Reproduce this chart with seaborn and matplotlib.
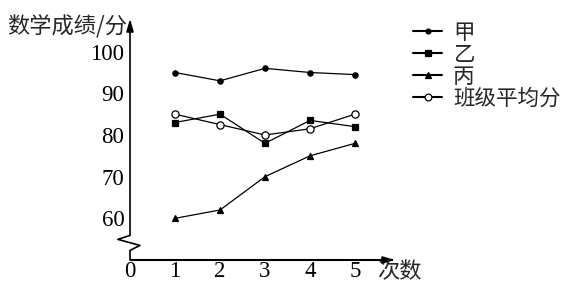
import matplotlib
matplotlib.use("Agg")
import matplotlib.pyplot as plt
from matplotlib import font_manager as fm
import seaborn as sns
import pandas as pd
from matplotlib.lines import Line2D

# ---- data ----
times = [1, 2, 3, 4, 5]
jia = [95, 93, 96, 95, 94.5]
yi = [83, 85, 78, 83.5, 82]
bing = [60, 62, 70, 75, 78]
avg = [85, 82.5, 80, 81.5, 85]
series_names = ["甲", "乙", "丙", "班级平均分"]
y_ticks = [60, 70, 80, 90, 100]
x_ticks = [0, 1, 2, 3, 4, 5]

sns.set_theme(style="white")
serif_name = 'Liberation Serif'
try:
    p = fm.findfont(fm.FontProperties(family=serif_name), fallback_to_default=False)
except Exception:
    serif_name = 'DejaVu Serif'
plt.rcParams['font.family'] = [serif_name, 'Noto Sans CJK SC', 'DejaVu Sans']
cjk = ['Noto Sans CJK SC', 'DejaVu Sans']
serif = [serif_name, 'DejaVu Serif']

fig = plt.figure(figsize=(5.88, 2.95), dpi=100)
ax = fig.add_axes([130/588, 35/295, 270/588, 250/295])

df = pd.DataFrame({
    "次数": times * 4,
    "成绩": jia + yi + bing + avg,
    "学生": sum([[n] * 5 for n in series_names], []),
})

styles = {
    "甲": dict(marker="o", ms=3.8, mfc="black"),
    "乙": dict(marker="s", ms=4.2, mfc="black"),
    "丙": dict(marker="^", ms=4.5, mfc="black"),
    "班级平均分": dict(marker="o", ms=5.2, mfc="white"),
}
handles = []
for name in series_names:
    sub = df[df["学生"] == name]
    st = styles[name]
    sns.lineplot(data=sub, x="次数", y="成绩", ax=ax, color="black", lw=0.9,
                 marker=st["marker"], markersize=st["ms"], markerfacecolor=st["mfc"],
                 markeredgecolor="black", markeredgewidth=0.9, legend=False)
    handles.append(Line2D([], [], color="black", lw=1.5, marker=st["marker"],
                          markersize=st["ms"] - 0.3, markerfacecolor=st["mfc"],
                          markeredgecolor="black", markeredgewidth=0.9))

ax.set_xlim(0, 6)
ax.set_ylim(50, 110)
for s in ax.spines.values():
    s.set_visible(False)
ax.set_xlabel("")
ax.set_ylabel("")

ax.set_xticks(x_ticks)
ax.set_xticklabels([str(t) for t in x_ticks], fontsize=16.5, family=serif)
ax.set_yticks(y_ticks)
ax.set_yticklabels([str(t) for t in y_ticks], fontsize=16.5, family=serif)
ax.tick_params(axis='x', direction='in', length=4, width=1, pad=1, colors='black')
ax.tick_params(axis='y', direction='in', length=3, width=1, pad=4, colors='black')
ax.xaxis.get_major_ticks()[0].tick1line.set_visible(False)

# axes with break
ax.plot([0, 5.85], [50, 50], color="black", lw=1.5, clip_on=False, solid_capstyle='butt')
ax.plot([0, 0, -0.27, 0.22, 0, 0], [107, 55.9, 54.95, 53.5, 52.3, 50],
        color="black", lw=1.2, clip_on=False)
ax.annotate("", xy=(5.95, 50), xytext=(5.6, 50),
            arrowprops=dict(arrowstyle="-|>,head_length=0.6,head_width=0.18",
                            color="black", lw=1.2), annotation_clip=False)
ax.annotate("", xy=(0, 108.5), xytext=(0, 104),
            arrowprops=dict(arrowstyle="-|>,head_length=0.6,head_width=0.18",
                            color="black", lw=1.2), annotation_clip=False)

fig.text(127/588, 1 - 27/295, "数学成绩/分", ha="right", va="center",
         fontsize=16, family=cjk, fontweight='light')
fig.text(377/588, 1 - 272/295, "次数", ha="left", va="center",
         fontsize=16, family=cjk, fontweight='light')

leg = ax.legend(handles, series_names, loc="upper left",
                bbox_to_anchor=(413/588, 1 - 22/295), bbox_transform=fig.transFigure,
                frameon=False, handlelength=1.35, handletextpad=0.5,
                labelspacing=0.0, borderpad=0, borderaxespad=0,
                prop=dict(family=cjk, size=15.5, weight='light'))

fig.savefig("out.png", dpi=100)
